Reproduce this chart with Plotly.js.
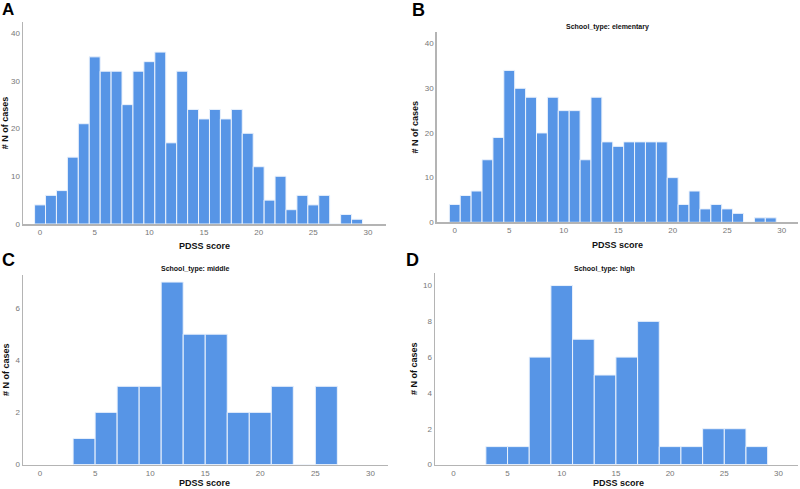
<!DOCTYPE html>
<html>
<head>
<meta charset="utf-8">
<script src="https://cdn.plot.ly/plotly-3.0.1.min.js"></script>
<style>html,body{margin:0;padding:0;background:#fff}#chart{width:800px;height:489px}</style>
</head>
<body>
<div id="chart"></div>
<script>
// Panel A: all schools, bin width 1, bins centred on integers
var scoresAll = [0,1,2,3,4,5,6,7,8,9,10,11,12,13,14,15,16,17,18,19,20,21,22,23,24,25,26,27,28,29];
var countsAll = [4,6,7,14,21,35,32,32,25,32,34,36,17,32,24,22,24,22,24,19,12,5,10,3,6,4,6,0,2,1];
// Panel B: elementary
var scoresElem = [0,1,2,3,4,5,6,7,8,9,10,11,12,13,14,15,16,17,18,19,20,21,22,23,24,25,26,27,28,29];
var countsElem = [4,6,7,14,19,34,30,28,20,28,25,25,14,28,18,17,18,18,18,18,10,4,7,3,4,3,2,0,1,1];
// Panel C: middle, bin width 2 (bin centres)
var scoresMiddle = [4,6,8,10,12,14,16,18,20,22,24,26];
var countsMiddle = [1,2,3,3,7,5,5,2,2,3,0,3];
// Panel D: high, bin width 2 (bin centres)
var scoresHigh = [4,6,8,10,12,14,16,18,20,22,24,26,28];
var countsHigh = [1,1,6,10,7,5,6,8,1,1,2,2,1];

var panelLabels = ['A','B','C','D'];
var panelTitles = ['', 'School_type: elementary', 'School_type: middle', 'School_type: high'];
var xTitle = 'PDSS score';
var yTitle = '# N of cases';
var xTicks = [0,5,10,15,20,25,30];

var barColor = '#5795e6';
var font = 'Liberation Sans, Arial, sans-serif';

function barTrace(x, y, w, xa, ya) {
  return {
    type: 'bar', x: x, y: y, width: w, xaxis: xa, yaxis: ya,
    marker: {color: barColor, line: {color: 'rgba(235,242,252,1)', width: 1}},
    hoverinfo: 'x+y', showlegend: false
  };
}

var data = [
  barTrace(scoresAll, countsAll, 1, 'x', 'y'),
  barTrace(scoresElem, countsElem, 1, 'x2', 'y2'),
  barTrace(scoresMiddle, countsMiddle, 2, 'x3', 'y3'),
  barTrace(scoresHigh, countsHigh, 2, 'x4', 'y4')
];

function xAxis(domain, anchor, range) {
  return {
    domain: domain, anchor: anchor, range: range,
    tickvals: xTicks, ticks: '', showgrid: false, zeroline: false,
    showline: true, linecolor: '#b4b4b4', linewidth: 1.5,
    tickfont: {family: font, size: 8, color: '#777'},
    automargin: false, fixedrange: true
  };
}
function yAxis(domain, anchor, range, dtick) {
  return {
    domain: domain, anchor: anchor, range: range, dtick: dtick, tick0: 0,
    ticks: '', showgrid: false, zeroline: false,
    showline: true, linecolor: '#b4b4b4', linewidth: 1.5,
    tickfont: {family: font, size: 8, color: '#777'},
    ticklabelstandoff: 0,
    title: {text: yTitle, font: {family: font, size: 9, color: '#111', weight: 'bold'}, standoff: 4},
    automargin: false, fixedrange: true
  };
}

function note(text, px, py, size, anchorX) {
  return {text: text, xref: 'paper', yref: 'paper', x: px / 800, y: 1 - py / 489,
    xanchor: anchorX, yanchor: 'middle', showarrow: false,
    font: {family: font, size: size, color: size > 12 ? '#000' : '#111', weight: 'bold'}};
}

var layout = {
  width: 800, height: 489,
  margin: {l: 0, r: 0, t: 0, b: 0},
  paper_bgcolor: '#fff', plot_bgcolor: '#fff',
  bargap: 0,
  font: {family: font},
  xaxis: xAxis([0.02875, 0.4825], 'y', [-1.56, 31.65]),
  yaxis: yAxis([0.5419, 0.955], 'x', [0, 42.3], 10),
  xaxis2: xAxis([0.546, 0.9975], 'y2', [-1.65, 31.5]),
  yaxis2: yAxis([0.5454, 0.9346], 'x2', [0, 42.6], 10),
  xaxis3: xAxis([0.02875, 0.485], 'y3', [-1.55, 31.6]),
  yaxis3: yAxis([0.0501, 0.4376], 'x3', [0, 7.27], 2),
  xaxis4: xAxis([0.5438, 0.9975], 'y4', [-1.69, 31.8]),
  yaxis4: yAxis([0.0501, 0.4417], 'x4', [0, 10.7], 2),
  annotations: [
    note(panelLabels[0], 0, 10, 17, 'left'),
    note(panelLabels[1], 410, 10, 18, 'left'),
    note(panelLabels[2], 0, 260, 18, 'left'),
    note(panelLabels[3], 404, 260, 18, 'left'),
    note(panelTitles[1], 607, 27, 7, 'center'),
    note(panelTitles[2], 195, 269, 7, 'center'),
    note(panelTitles[3], 604, 269, 7, 'center'),
    note(xTitle, 205, 246, 9, 'center'),
    note(xTitle, 617, 245, 9, 'center'),
    note(xTitle, 205, 482.5, 9, 'center'),
    note(xTitle, 618, 482.5, 9, 'center')
  ]
};

Plotly.newPlot('chart', data, layout, {displayModeBar: false, staticPlot: true});
</script>
</body>
</html>
